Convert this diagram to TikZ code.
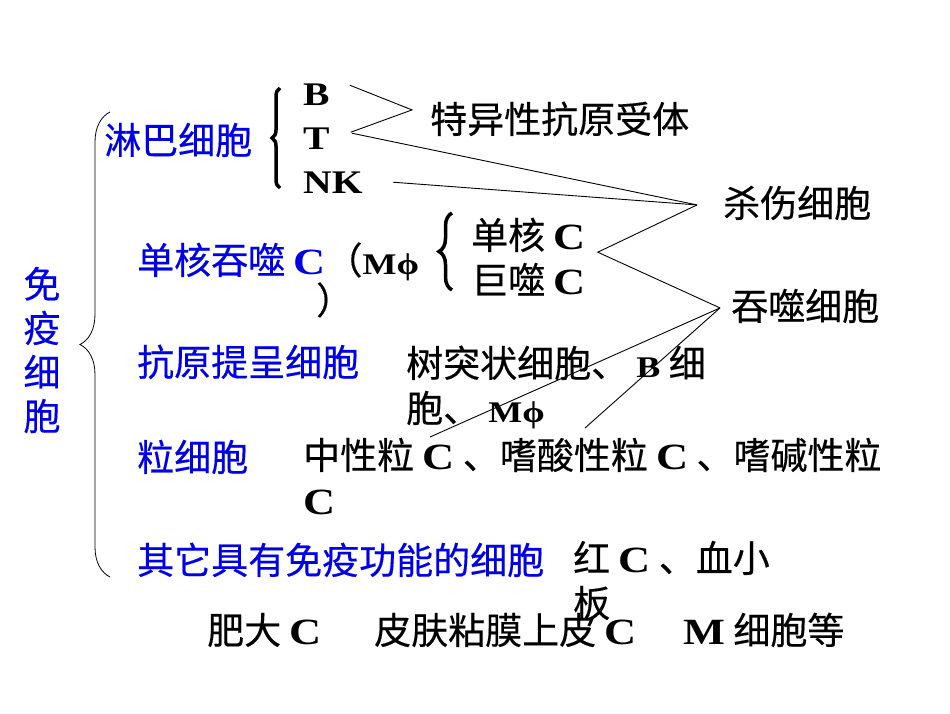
\documentclass[tikz,border=0pt]{standalone}
\usepackage{fontspec}
\setmainfont{Noto Sans CJK SC}[FakeBold=0.4]
\newfontfamily\latb{Liberation Serif}[FakeStretch=1.2]
\newcommand\lb[1]{{\latb\bfseries #1}}
\newcommand\lbs[1]{{\latb\bfseries\fontsize{30}{36}\selectfont #1}}
\newcommand\lbm[1]{{\latb\bfseries\fontsize{33}{40}\selectfont #1}}
\usetikzlibrary{decorations.pathreplacing}
\definecolor{labblue}{RGB}{0,0,230}

\begin{document}
\begin{tikzpicture}[x=1pt,y=-1pt,
   every node/.style={inner sep=0pt,font=\fontsize{37}{45}\selectfont},
   cat/.style={text=labblue,anchor=base west},
   txt/.style={anchor=base west,align=left},
   ln/.style={line width=0.9pt},
   brc/.style={decorate,decoration={brace,amplitude=#1}}]
   \useasboundingbox (0,0) rectangle (950,713);
   % left: immune cells and the big brace
   \node[text=labblue,align=center,font=\fontsize{37}{44}\selectfont] (imm) at (42,350) {免\\疫\\细\\胞};
   \draw[brc=30pt,line width=0.8pt] (110,577) -- (110,112);
   % categories
   \node[cat] (lym) at (104,154) {淋巴细胞};
   \node[cat] (mph) at (137,274) {单核吞噬 \lb{C}\textcolor{black}{（\lbs{Mϕ}}};
   \node[txt] (mphc) at (316,314) {）};
   \node[cat] (apc) at (137,376) {抗原提呈细胞};
   \node[cat] (gra) at (137,471) {粒细胞};
   \node[cat] (oth) at (137,574) {其它具有免疫功能的细胞};
   % lymphocytes
   \draw[brc=8pt,line width=3.5pt] (280,188) -- (280,88);
   \node[txt] (b) at (303,105) {\lbm{B}};
   \node[txt] (t) at (303,149) {\lbm{T}};
   \node[txt] (nk) at (303,193) {\lbm{NK}};
   \node[txt] (rec) at (430,133) {特异性抗原受体};
   \node[txt] (kill) at (723,217) {杀伤细胞};
   % monocytes
   \draw[brc=13pt,line width=3.5pt] (452,290) -- (452,213);
   \node[txt] (mono) at (471,249) {单核 \lb{C}};
   \node[txt] (mac) at (471,294) {巨噬 \lb{C}};
   \node[txt] (phag) at (731,320) {吞噬细胞};
   % the others (base = last line)
   \node[txt] (dc) at (406,422) {树突状细胞、 \lbs{B} 细\\胞、 \lbs{Mϕ}};
   \node[txt] (gran) at (303,514) {中性粒 \lb{C} 、嗜酸性粒 \lb{C} 、嗜碱性粒\\\lb{C}};
   \node[txt] (rbc) at (573,617) {红 \lb{C} 、血小\\板};
   \node[txt] (mast) at (207,644) {肥大 \lb{C}};
   \node[txt] (epi) at (374,644) {皮肤粘膜上皮 \lb{C}};
   \node[txt] (mcell) at (683,644) {\lb{M} 细胞等};
   % tips of the connectors
   \coordinate (rtip) at ([shift={(-18,-9)}]rec.west);
   \coordinate (ktip) at ([shift={(-26,2)}]kill.west);
   \coordinate (mtip) at ([shift={(12,0)}]mono.south east);
   \coordinate (ptip) at ([shift={(-11,2)}]phag.west);
   \coordinate (apcend) at (430,437);
   \coordinate (granend) at (585,428);
   \draw[ln] ([shift={(20,2)}]b.north east) -- (rtip) -- ([shift={(21,5)}]t.north east);
   \draw[ln] ([shift={(22,6)}]t.north east) -- (ktip);
   \draw[ln] ([shift={(30,0)}]nk.east) -- (ktip);
   \draw[ln] (ktip) -- (mtip) -- (ptip);
   \draw[ln] (ptip) -- (apcend);
   \draw[ln] (ptip) -- (granend);
\end{tikzpicture}
\end{document}
